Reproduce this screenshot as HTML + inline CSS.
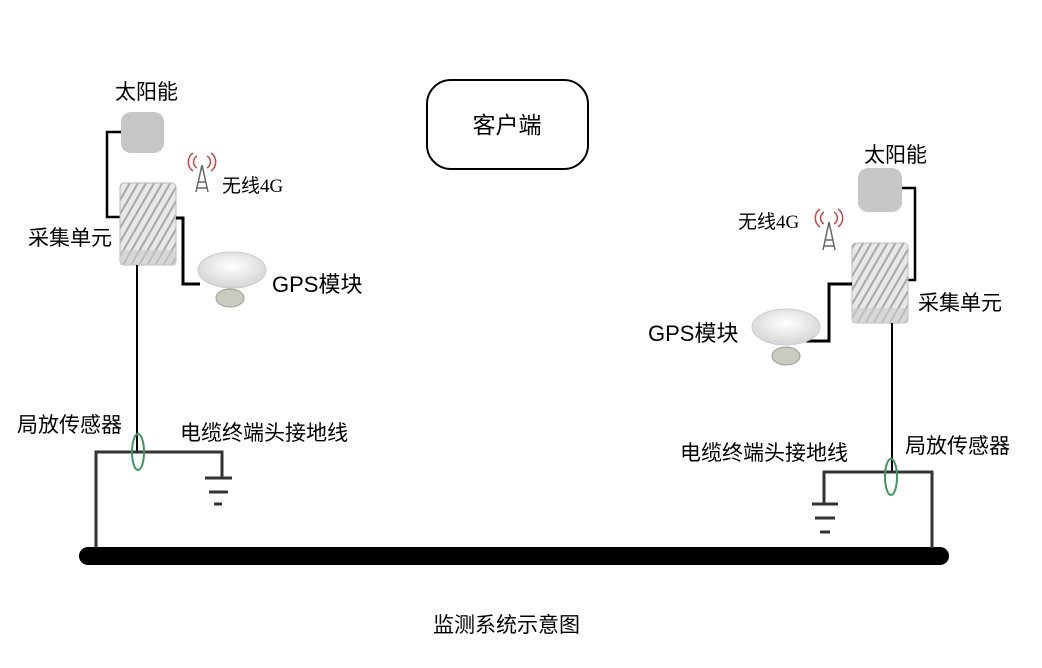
<!DOCTYPE html>
<html><head><meta charset="utf-8"><style>
html,body{margin:0;padding:0;background:#fff;width:1042px;height:668px;overflow:hidden}
svg{display:block}
text{font-family:"Liberation Sans","Noto Sans CJK SC",sans-serif;fill:#000}
</style></head><body>
<svg width="1042" height="668" viewBox="0 0 1042 668" xmlns="http://www.w3.org/2000/svg">
<defs>
<pattern id="ribs" width="7" height="7" patternUnits="userSpaceOnUse" patternTransform="rotate(30)">
<rect width="7" height="7" fill="#e8e8e8"/><rect width="2" height="7" fill="#a8a8a8"/>
</pattern>
<radialGradient id="dish" cx="0.5" cy="0.4" r="0.6">
<stop offset="0" stop-color="#fff"/><stop offset="1" stop-color="#d4d4d4"/>
</radialGradient>
</defs>

<rect x="427" y="80" width="161" height="89" rx="24" fill="#fff" stroke="#000" stroke-width="2"/>
<text x="507" y="133" font-size="23" text-anchor="middle">客户端</text>

<!-- LEFT -->
<rect x="121" y="112" width="43" height="41" rx="10" fill="#c6c6c6"/>
<polyline points="121,132 107,132 107,217 121,217" fill="none" stroke="#000" stroke-width="2.5"/>
<rect x="120" y="183" width="56" height="82" rx="4" fill="url(#ribs)" stroke="#bbb"/>
<rect x="120" y="250" width="56" height="15" fill="#ccc" opacity="0.6"/>
<polyline points="176,218 183,218 183,284 200,284" fill="none" stroke="#000" stroke-width="3"/>
<ellipse cx="230" cy="298" rx="14" ry="9" fill="#c9cbbf" stroke="#999"/>
<ellipse cx="232" cy="270" rx="34" ry="18" fill="url(#dish)" stroke="#ccc"/>
<line x1="137" y1="265" x2="137" y2="452" stroke="#000" stroke-width="2"/>
<g stroke="#666" fill="none" stroke-width="1.5">
<path d="M202,165 L196,192 M202,165 L208,192 M198,182 L206,182 M197,188 L207,188"/>
</g>
<g stroke="#c44" fill="none" stroke-width="1.5">
<path d="M197,156 a7,7 0 0 0 0,12 M207,156 a7,7 0 0 1 0,12 M193,153 a11,11 0 0 0 0,18 M211,153 a11,11 0 0 1 0,18"/>
</g>
<text x="222" y="192" font-size="19">无线<tspan font-family="Liberation Serif, serif">4G</tspan></text>
<text x="115" y="99" font-size="21">太阳能</text>
<text x="28" y="245" font-size="21">采集单元</text>
<text x="272" y="292" font-size="22">GPS模块</text>
<text x="17" y="432" font-size="21">局放传感器</text>
<text x="180" y="440" font-size="21">电缆终端头接地线</text>
<polyline points="96,548 96,452 222,452 222,478" fill="none" stroke="#333" stroke-width="3"/>
<line x1="205" y1="478" x2="232" y2="478" stroke="#333" stroke-width="3"/>
<line x1="209" y1="492" x2="228" y2="492" stroke="#333" stroke-width="3"/>
<line x1="214" y1="504" x2="222" y2="504" stroke="#333" stroke-width="3"/>
<ellipse cx="138" cy="452" rx="6" ry="18" fill="none" stroke="#3a9a5a" stroke-width="2"/>

<line x1="88" y1="556" x2="940" y2="556" stroke="#000" stroke-width="18" stroke-linecap="round"/>

<!-- RIGHT -->
<rect x="858" y="168" width="44" height="44" rx="10" fill="#c6c6c6"/>
<polyline points="902,188 915,188 915,280 908,280" fill="none" stroke="#000" stroke-width="2.5"/>
<rect x="852" y="243" width="56" height="80" rx="4" fill="url(#ribs)" stroke="#bbb"/>
<rect x="852" y="308" width="56" height="15" fill="#ccc" opacity="0.6"/>
<polyline points="852,284 829,284 829,341 806,341" fill="none" stroke="#000" stroke-width="3"/>
<ellipse cx="786" cy="356" rx="14" ry="9" fill="#c9cbbf" stroke="#999"/>
<ellipse cx="786" cy="327" rx="34" ry="18" fill="url(#dish)" stroke="#ccc"/>
<line x1="892" y1="323" x2="892" y2="472" stroke="#000" stroke-width="2"/>
<g stroke="#666" fill="none" stroke-width="1.5">
<path d="M829,222 L823,250 M829,222 L835,250 M825,240 L833,240 M824,246 L834,246"/>
</g>
<g stroke="#c44" fill="none" stroke-width="1.5">
<path d="M824,212 a7,7 0 0 0 0,12 M834,212 a7,7 0 0 1 0,12 M820,209 a11,11 0 0 0 0,18 M838,209 a11,11 0 0 1 0,18"/>
</g>
<text x="738" y="228" font-size="19">无线<tspan font-family="Liberation Serif, serif">4G</tspan></text>
<text x="864" y="162" font-size="21">太阳能</text>
<text x="918" y="310" font-size="21">采集单元</text>
<text x="648" y="341" font-size="22">GPS模块</text>
<text x="680" y="460" font-size="21">电缆终端头接地线</text>
<text x="905" y="453" font-size="21">局放传感器</text>
<polyline points="932,548 932,472 824,472 824,503" fill="none" stroke="#333" stroke-width="3"/>
<line x1="812" y1="504" x2="838" y2="504" stroke="#333" stroke-width="3"/>
<line x1="815" y1="518" x2="835" y2="518" stroke="#333" stroke-width="3"/>
<line x1="820" y1="532" x2="830" y2="532" stroke="#333" stroke-width="3"/>
<ellipse cx="891" cy="477" rx="6" ry="18" fill="none" stroke="#3a9a5a" stroke-width="2"/>

<text x="433" y="632" font-size="21">监测系统示意图</text>
</svg>
</body></html>
